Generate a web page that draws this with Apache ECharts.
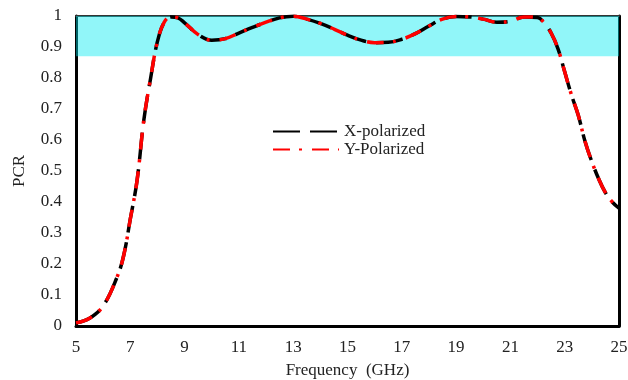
<!DOCTYPE html>
<html>
<head>
<meta charset="utf-8">
<script src="https://cdn.jsdelivr.net/npm/echarts@6/dist/echarts.min.js"></script>
<style>
  html, body { margin: 0; padding: 0; background: #fff; }
  #chart { width: 628px; height: 380px; }
</style>
</head>
<body>
<div id="chart"></div>
<script>
// Frequency sample points (GHz)
const freq = [5, 5.5, 6, 6.5, 6.75, 7, 7.25, 7.5, 7.75, 8, 8.25, 8.5, 8.75, 9, 9.5,
  10, 10.5, 11, 11.5, 12, 12.5, 13, 13.5, 14, 14.5, 15, 15.5, 16, 16.5, 17, 17.5,
  18, 18.5, 19, 19.5, 20, 20.5, 21, 21.5, 22, 22.25, 22.5, 22.75, 23, 23.25, 23.5,
  23.75, 24, 24.25, 24.5, 24.75, 25];

// Polarization conversion ratio for X-polarized incidence
const pcrX = [0.01, 0.025, 0.065, 0.155, 0.225, 0.345, 0.47, 0.665, 0.80, 0.918, 0.98,
  0.997, 0.994, 0.978, 0.94, 0.922, 0.927, 0.945, 0.963, 0.98, 0.994, 0.999, 0.99,
  0.976, 0.958, 0.938, 0.922, 0.914, 0.915, 0.925, 0.943, 0.968, 0.99, 0.998, 0.997,
  0.99, 0.98, 0.983, 0.997, 0.995, 0.977, 0.945, 0.895, 0.82, 0.745, 0.68, 0.595,
  0.53, 0.475, 0.43, 0.40, 0.38];

// Polarization conversion ratio for Y-polarized incidence
const pcrY = [0.01, 0.025, 0.065, 0.155, 0.225, 0.345, 0.47, 0.665, 0.80, 0.918, 0.98,
  0.997, 0.994, 0.978, 0.94, 0.922, 0.927, 0.945, 0.963, 0.98, 0.994, 0.999, 0.99,
  0.976, 0.958, 0.938, 0.922, 0.914, 0.915, 0.925, 0.943, 0.968, 0.99, 0.998, 0.997,
  0.99, 0.98, 0.983, 0.997, 0.995, 0.977, 0.945, 0.895, 0.82, 0.745, 0.68, 0.595,
  0.53, 0.475, 0.43, 0.40, 0.38];

// Highlighted band where PCR exceeds the threshold
const bandLow = 0.87;
const bandHigh = 1;

const seriesNames = ['X-polarized', 'Y-Polarized'];

const font = 'Liberation Serif';
const chart = echarts.init(document.getElementById('chart'), null, { renderer: 'canvas' });

const pairs = (xs, ys) => xs.map((x, i) => [x, ys[i]]);

chart.setOption({
  animation: false,
  backgroundColor: '#fff',
  grid: { left: 76, right: 9, top: 16, bottom: 54, containLabel: false, outerBoundsMode: 'none' },
  legend: {
    orient: 'vertical',
    left: 272,
    top: 123,
    padding: 0,
    itemWidth: 66,
    itemHeight: 4,
    itemGap: 1,
    itemStyle: { opacity: 0, borderWidth: 0 },
    textStyle: { fontFamily: font, fontSize: 17, color: '#222', lineHeight: 17 },
    data: seriesNames
  },
  xAxis: [{
    type: 'value',
    min: 5, max: 25, interval: 2,
    name: 'Frequency  (GHz)',
    nameLocation: 'middle',
    nameGap: 36,
    nameTextStyle: { fontFamily: font, fontSize: 17, color: '#222' },
    axisLine: { onZero: false, lineStyle: { color: '#000', width: 3 } },
    axisTick: { show: false },
    splitLine: { show: false },
    axisLabel: { fontFamily: font, fontSize: 17, color: '#222', margin: 13 }
  }, {
    type: 'value', position: 'top',
    min: 5, max: 25,
    axisLine: { onZero: false, lineStyle: { color: '#333', width: 2 } },
    axisTick: { show: false }, axisLabel: { show: false }, splitLine: { show: false }
  }],
  yAxis: [{
    type: 'value',
    min: 0, max: 1, interval: 0.1,
    name: 'PCR',
    nameLocation: 'middle',
    nameGap: 48,
    nameTextStyle: { fontFamily: font, fontSize: 17, color: '#222' },
    axisLine: { show: true, onZero: false, lineStyle: { color: '#000', width: 3 } },
    axisTick: { show: false },
    splitLine: { show: false },
    axisLabel: {
      fontFamily: font, fontSize: 17, color: '#222', margin: 14,
      formatter: v => String(Math.round(v * 10) / 10)
    }
  }, {
    type: 'value', position: 'right',
    min: 0, max: 1,
    axisLine: { show: true, onZero: false, lineStyle: { color: '#000', width: 3 } },
    axisTick: { show: false }, axisLabel: { show: false }, splitLine: { show: false }
  }],
  series: [{
    name: seriesNames[0],
    type: 'line',
    data: pairs(freq, pcrX),
    smooth: 0.4,
    symbol: 'none',
    z: 2,
    itemStyle: { color: '#000' },
    lineStyle: { color: '#000', width: 3.5, type: [27, 10] }
  }, {
    name: seriesNames[1],
    type: 'line',
    data: pairs(freq, pcrY),
    smooth: 0.4,
    symbol: 'none',
    z: 3,
    itemStyle: { color: '#f00' },
    lineStyle: { color: '#f00', width: 3.5, type: [17, 9, 3, 10] }
  }, {
    // translucent band drawn above the curves
    type: 'line',
    data: [],
    z: 10,
    silent: true,
    markArea: {
      silent: true,
      itemStyle: { color: 'rgba(0, 235, 240, 0.43)' },
      data: [[{ coord: [5, bandLow] }, { coord: [25, bandHigh] }]]
    }
  }]
});
</script>
</body>
</html>
